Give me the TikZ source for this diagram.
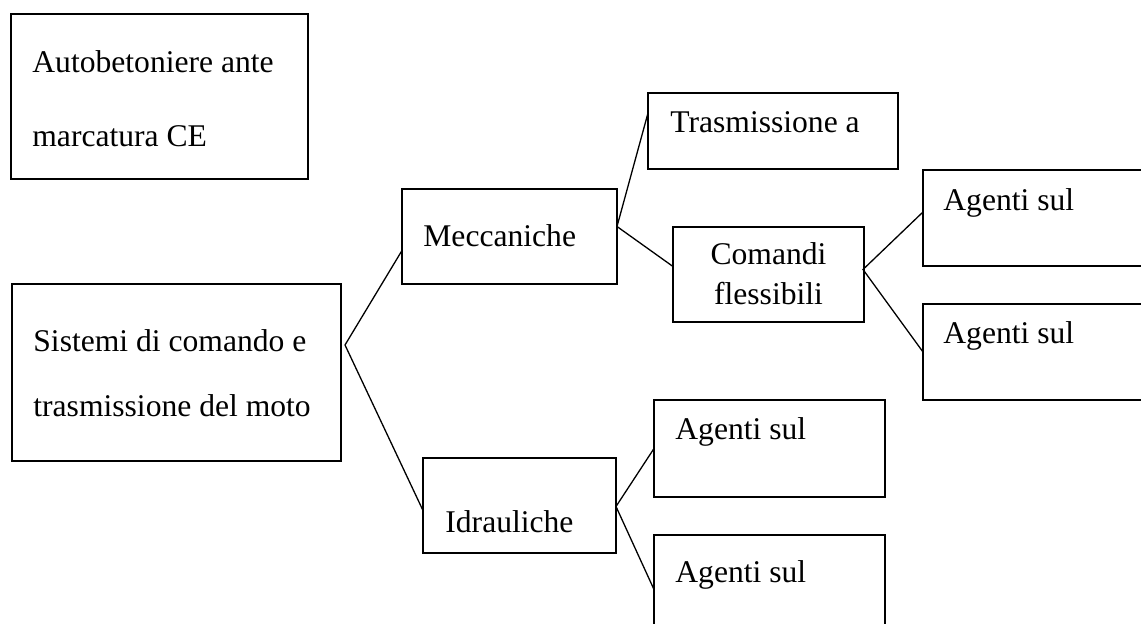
\documentclass[tikz,border=0pt]{standalone}
\usepackage{fontspec}
\setmainfont{Liberation Serif}
\usetikzlibrary{calc}

\begin{document}
\begin{tikzpicture}[
  x=0.5pt,y=-0.5pt,
  every node/.style={font=\fontsize{15.8}{19}\selectfont},
  box/.style={draw,line width=0.9pt,anchor=north west,inner sep=0pt,outer sep=0pt},
  txt/.style={anchor=base west,inner sep=0pt,align=left},
  link/.style={line width=0.65pt}
]
\useasboundingbox (0,0) rectangle (1141,624);
\clip (0,0) rectangle (1141,624);

% boxes
\node[box,minimum width=148.5pt,minimum height=82.5pt] (auto) at (11,14) {};
\node[box,minimum width=164.5pt,minimum height=88.5pt] (sis) at (12,284) {};
\node[box,minimum width=107.5pt,minimum height=47.5pt] (mec) at (402,189) {};
\node[box,minimum width=96.5pt,minimum height=47.5pt] (idr) at (423,458) {};
\node[box,minimum width=125pt,minimum height=38pt] (tra) at (648,93) {};
\node[box,minimum width=95.5pt,minimum height=47.5pt] (com) at (673,227) {};
\node[box,minimum width=120pt,minimum height=48pt] (ag1) at (923,170) {};
\node[box,minimum width=120pt,minimum height=48pt] (ag2) at (923,304) {};
\node[box,minimum width=115.5pt,minimum height=48.5pt] (ag3) at (654,400) {};
\node[box,minimum width=115.5pt,minimum height=48.5pt] (ag4) at (654,535) {};

% texts (base = last line)
\node[txt,font=\fontsize{15.8}{37}\selectfont] (autot) at ($(auto.north west)+(21,133)$) {Autobetoniere ante\\marcatura CE};
\node[txt,font=\fontsize{15.8}{32.5}\selectfont] (sist) at ($(sis.north west)+(21,133)$) {Sistemi di comando e\\trasmissione del moto};
\node[txt] (mect) at ($(mec.north west)+(21,58)$) {Meccaniche};
\node[txt] (idrt) at ($(idr.north west)+(22,75)$) {Idrauliche};
\node[txt] (trat) at ($(tra.north west)+(22,40)$) {Trasmissione a};
\node[txt,anchor=base,align=center,font=\fontsize{15.8}{20}\selectfont] (comt) at ($(com.north)+(0,78)$) {Comandi\\flessibili};
\node[txt] (ag1t) at ($(ag1.north west)+(20,41)$) {Agenti sul};
\node[txt] (ag2t) at ($(ag2.north west)+(20,40)$) {Agenti sul};
\node[txt] (ag3t) at ($(ag3.north west)+(21,40)$) {Agenti sul};
\node[txt] (ag4t) at ($(ag4.north west)+(21,48)$) {Agenti sul};

% connectors
\coordinate (sisfork) at ($(sis.north east)+(4,61)$);
\coordinate (mecfork) at ($(mec.east)+(0,-10)$);
\coordinate (comfork) at ($(com.east)+(-1,-5)$);
\coordinate (idrfork) at ($(idr.east)+(0,1)$);
\draw[link] ($(mec.west)+(0,14)$) -- (sisfork) -- ($(idr.west)+(0,5)$);
\draw[link] ($(tra.west)+(0,-18)$) -- (mecfork) -- ($(com.west)+(0,-8)$);
\draw[link] ($(ag1.west)+(0,-6)$) -- (comfork) -- (ag2.west);
\draw[link] (ag3.west) -- (idrfork) -- ($(ag4.west)+(0,6)$);
\end{tikzpicture}
\end{document}
